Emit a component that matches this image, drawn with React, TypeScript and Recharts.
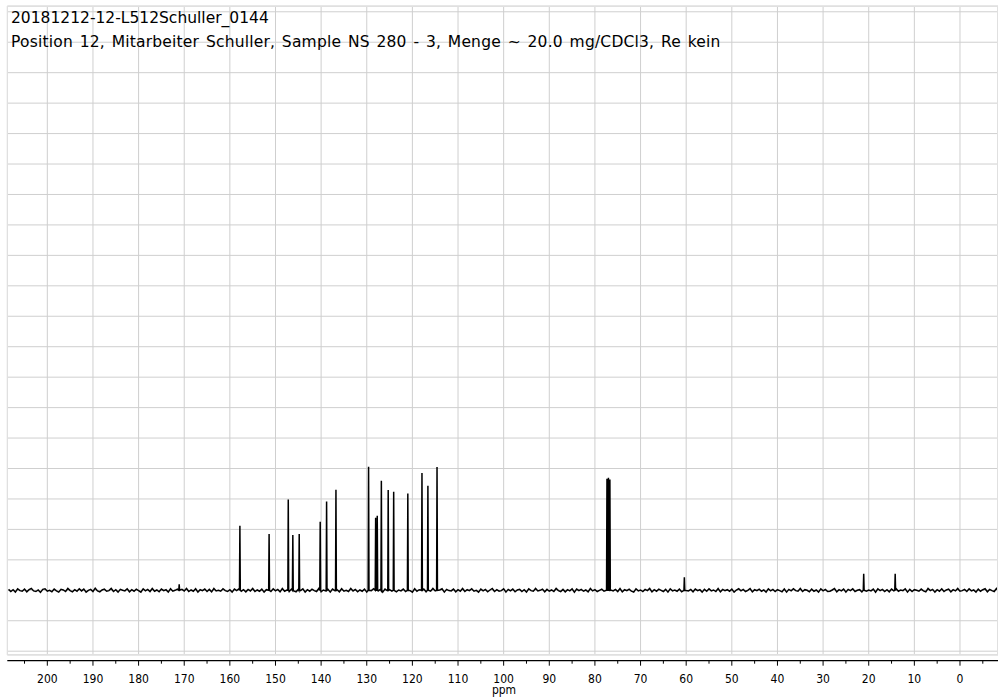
import React from 'react';
import { LineChart, Line, XAxis, YAxis, CartesianGrid, ReferenceLine } from 'recharts';

const TITLE_1 = '20181212-12-L512Schuller_0144';
const TITLE_2 = 'Position 12, Mitarbeiter Schuller, Sample NS 280 - 3, Menge ~ 20.0 mg/CDCl3, Re kein';
const AXIS_LABEL = 'ppm';

// peak positions (ppm) and heights (in grid units above baseline)
const PEAK_PPM = [171.1, 157.8, 151.4, 147.2, 146.2, 144.8, 140.2, 138.8, 136.75, 129.6, 128.05, 127.7, 126.8, 125.3, 124.1, 121.0, 117.9, 116.6, 114.6, 77.36, 77.04, 76.72, 60.4, 21.1, 14.2];
const PEAK_HEIGHT = [0.2, 2.12, 1.85, 2.98, 1.82, 1.85, 2.25, 2.92, 3.3, 4.06, 2.38, 2.45, 3.6, 3.29, 3.24, 3.18, 3.85, 3.43, 4.05, 3.66, 3.7, 3.64, 0.43, 0.54, 0.54];
const PEAK_HALF_WIDTH = 0.09;

// baseline noise (hundredths of a grid unit), sampled every 0.5 ppm from 208.5 ppm downward
const NOISE_START = 208.5;
const NOISE_STEP = 0.5;
const NOISE = [
  3, -4, 2, -6, 5, -1, -3, 4, -5, 2, 6, -2, -4, 1, -7, 3, 5, -3, 0, -5,
  4, -2, -6, 3, 1, -4, 6, -1, -5, 2, -3, 5, -2, 4, -6, 0, 3, -4, 7, -2,
  -5, 1, 4, -3, -1, 6, -4, 2, -6, 3, 0, -2, 5, -5, 2, -3, 4, -1, -6, 5,
  -2, 3, -4, 6, -3, 1, -5, 4, -1, 2, -6, 5, -3, 0, 4, -5, 3, -2, 6, -4,
  1, -3, 5, -6, 2, -1, 4, -4, 3, -5, 6, -2, 0, -3, 5, -1, -4, 2, -6, 4,
  -1, 5, -3, 2, -5, 3, -2, 6, -4, 1, -3, 4, -6, 2, 0, -4, 5, -2, 3, -5,
  6, -3, 1, -4, 4, -2, -5, 3, -1, 5, -6, 2, -3, 4, -1, -4, 6, -5, 1, -2,
  3, -6, 4, -1, 2, -5, 5, -3, 0, -4, 6, -2, 3, -5, 1, -3, 4, -6, 2, -1,
  5, -4, -2, 3, -6, 4, -1, 2, -3, 6, -5, 1, -2, 4, -4, 3, -1, -6, 5, -3,
  2, -1, 4, -5, 3, -3, 6, -2, -4, 1, 5, -6, 3, -1, -2, 4, -5, 2, -3, 6,
  -4, 2, -1, 5, -3, 0, -6, 4, -2, 3, -5, 1, 6, -4, 2, -3, -1, 5, -6, 3,
  -2, 4, -5, 1, 3, -4, 2, -6, 5, -1, -3, 6, -2, 0, 4, -5, 3, -3, 1, -4,
  6, -1, -4, 3, -5, 2, -2, 5, -6, 4, -1, 3, -3, 1, -5, 6, -2, 2, -4, 0,
  4, -3, 5, -6, 1, -2, 3, -4, 6, -5, 2, -1, 4, -3, -6, 5, -2, 1, -4, 3,
  -1, 6, -5, 2, -3, 4, 0, -4, 3, -6, 5, -2, 1, -3, 4, -5, 6, -1, -2, 3,
  -5, 4, -1, 2, -6, 3, -3, 5, -2, 1, -4, 6, -5, 3, -1, 2, -3, 4, -6, 1,
  5, -2, 3, -4, 0, 6, -5, 2, -1, 4, -3, 1, -6, 5, -2, 3, -4, 2, -1, -5,
  4, -6, 3, -2, 5, -1, -3, 6, -4, 2, 0, -5, 4, -3, 1, -6, 5, -2, 3, -4,
  -3, 1, 6, -5, 2, -2, 4, -6, 3, -1, 5, -4, 0, 2, -5, 6, -3, 1, -2, 4,
  -6, 5, -1, 3, -4, 2, -5, 4, -2, 6, -3, 1, -1, 5, -6, 3, -4, 2, 0, -3,
  4, -2, -5, 6, -1, 3, -6, 2, -3, 5, -4, 1, 4, -5, 2, -2, 6, -3, -1, 3,
  -4, 5, -2, 1, -6, 4, -3, 2, 5, -5, 3, -1, -4, 6, -2, 1, -3, 4, -5, 2,
];

const MAJOR_TICKS = [200, 190, 180, 170, 160, 150, 140, 130, 120, 110, 100, 90, 80, 70, 60, 50, 40, 30, 20, 10, 0];
const ALL_TICKS = [205, 200, 195, 190, 185, 180, 175, 170, 165, 160, 155, 150, 145, 140, 135, 130, 125, 120, 115, 110, 105, 100, 95, 90, 85, 80, 75, 70, 65, 60, 55, 50, 45, 40, 35, 30, 25, 20, 15, 10, 5, 0, -5];
const Y_GRID = [-2, -1, 0, 1, 2, 3, 4, 5, 6, 7, 8, 9, 10, 11, 12, 13, 14, 15, 16, 17, 18, 19];
const X_DOMAIN: [number, number] = [-8.33, 208.77];
const Y_DOMAIN: [number, number] = [-2.125, 19.19];
const AXIS_LINE_VALUE = -2.312;

type Pt = { ppm: number; v: number };

const buildData = (): Pt[] => {
  const pts: Pt[] = [];
  NOISE.forEach((n, i) => {
    const ppm = NOISE_START - i * NOISE_STEP;
    const near = PEAK_PPM.some((p) => Math.abs(p - ppm) < 0.15);
    if (!near) pts.push({ ppm, v: n / 100 });
  });
  PEAK_PPM.forEach((p, i) => {
    pts.push({ ppm: p + PEAK_HALF_WIDTH, v: 0 });
    pts.push({ ppm: p, v: PEAK_HEIGHT[i] });
    pts.push({ ppm: p - PEAK_HALF_WIDTH, v: 0 });
  });
  pts.sort((a, b) => b.ppm - a.ppm);
  return pts;
};

const DATA = buildData();

const FONT = "'DejaVu Sans Condensed', 'DejaVu Sans', sans-serif";

const Tick = (props: any) => {
  const { x, y, payload } = props;
  const v = payload.value as number;
  const major = v % 10 === 0;
  const ay = y + 5.7;
  return (
    <g>
      <line x1={x} x2={x} y1={ay} y2={ay + (major ? 5 : 3)} stroke="#000" strokeWidth={1} />
      {major && (
        <text x={x} y={ay + 22} textAnchor="middle" fontFamily={FONT} fontSize={12} fill="#000">
          {v}
        </text>
      )}
    </g>
  );
};

export default function App() {
  return (
    <div style={{ position: 'absolute', left: 0, top: 0, width: 998, height: 697, background: '#fff', overflow: 'hidden' }}>
      <LineChart width={998} height={697} data={DATA} margin={{ top: 6, right: 0, bottom: 2, left: 7.3 }}>
        <CartesianGrid xAxisId="grid" stroke="#cfcfcf" strokeWidth={1} />
        <XAxis xAxisId="grid" dataKey="ppm" type="number" domain={X_DOMAIN} reversed allowDataOverflow hide ticks={MAJOR_TICKS} interval={0} />
        <XAxis
          dataKey="ppm"
          type="number"
          domain={X_DOMAIN}
          reversed
          allowDataOverflow
          ticks={ALL_TICKS}
          interval={0}
          height={40}
          axisLine={false}
          tickLine={false}
          tickSize={0}
          tickMargin={0}
          tick={<Tick />}
        />
        <YAxis type="number" domain={Y_DOMAIN} allowDataOverflow hide ticks={Y_GRID} interval={0} />
        <ReferenceLine y={AXIS_LINE_VALUE} ifOverflow="visible" stroke="#000" strokeWidth={1.2} />
        <Line dataKey="v" type="linear" stroke="#000" strokeWidth={1.5} strokeLinejoin="miter" dot={false} isAnimationActive={false} />
      </LineChart>
      <div style={{ position: 'absolute', left: 7, top: 6, width: 991, height: 649, border: '1px solid #e0e0e0', boxSizing: 'border-box', pointerEvents: 'none' }} />
      <div style={{ position: 'absolute', left: 11, top: 11, fontFamily: "'DejaVu Sans', sans-serif", fontSize: 15.5, lineHeight: 1, whiteSpace: 'nowrap', color: '#000' }}>{TITLE_1}</div>
      <div style={{ position: 'absolute', left: 11, top: 35, fontFamily: "'DejaVu Sans', sans-serif", fontSize: 15.5, lineHeight: 1, whiteSpace: 'nowrap', color: '#000', letterSpacing: 0.2, wordSpacing: 1.6 }}>{TITLE_2}</div>
      <div style={{ position: 'absolute', left: 484, width: 40, top: 684, textAlign: 'center', fontFamily: FONT, fontSize: 12, lineHeight: 1, color: '#000' }}>{AXIS_LABEL}</div>
    </div>
  );
}
